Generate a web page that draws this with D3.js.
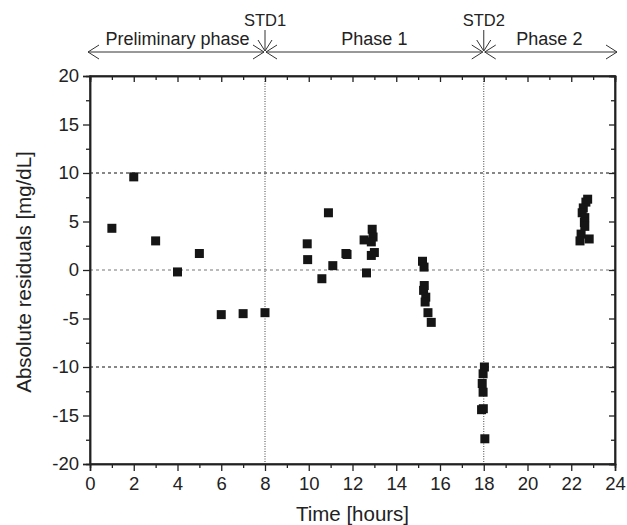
<!DOCTYPE html>
<html><head><meta charset="utf-8">
<script src="https://cdn.jsdelivr.net/npm/d3@7"></script>
<style>
body{margin:0;background:#fff;}
svg text{font-family:"Liberation Sans",Arial,sans-serif;fill:#222;}
</style></head>
<body><svg id="c" width="627" height="525"></svg>
<script>
// Data
const prelimTime = [1, 2, 3, 4, 5, 6, 7, 8];
const prelimValue = [4.3, 9.6, 3.0, -0.2, 1.7, -4.6, -4.5, -4.4];
const phase1Time = [9.93, 9.95, 10.6, 10.9, 11.1, 11.7, 11.75, 12.53, 12.64, 12.9, 12.94, 12.86, 12.86, 13.0,
                    15.2, 15.27, 15.28, 15.25, 15.35, 15.32, 15.45, 15.6];
const phase1Value = [2.7, 1.07, -0.9, 5.9, 0.45, 1.7, 1.6, 3.1, -0.3, 4.2, 3.4, 2.9, 1.5, 1.8,
                     0.9, 0.3, -1.6, -2.1, -2.8, -3.3, -4.4, -5.4];
const phase2Time = [18.03, 17.97, 17.93, 17.97, 17.9, 17.98, 18.05,
                    22.75, 22.67, 22.55, 22.5, 22.62, 22.6, 22.62, 22.45, 22.4, 22.82];
const phase2Value = [-10.0, -10.7, -11.7, -12.6, -14.4, -14.3, -17.4,
                     7.3, 7.0, 6.4, 5.9, 5.4, 4.9, 4.5, 3.7, 3.0, 3.2];
const xMajorTicks = [0, 2, 4, 6, 8, 10, 12, 14, 16, 18, 20, 22, 24];
const xMinorTicks = [1, 3, 5, 7, 9, 11, 13, 15, 17, 19, 21, 23];
const yMajorTicks = [-20, -15, -10, -5, 0, 5, 10, 15, 20];
const yMinorTicks = [-17.5, -12.5, -7.5, -2.5, 2.5, 7.5, 12.5, 17.5];
const hLines = [10, 0, -10];
const stdMarks = [{t: 8, label: "STD1"}, {t: 18, label: "STD2"}];
const phaseLabels = [{from: 0, to: 8, label: "Preliminary phase"},
                     {from: 8, to: 18, label: "Phase 1"},
                     {from: 18, to: 24, label: "Phase 2"}];

const points = [];
[[prelimTime, prelimValue], [phase1Time, phase1Value], [phase2Time, phase2Value]].forEach(([t, v]) => {
  t.forEach((d, i) => points.push({t: d, v: v[i]}));
});

const L = 90, R = 615, T = 76, B = 464;
const svg = d3.select("#c");
const x = d3.scaleLinear().domain([0, 24]).range([L, R]);
const y = d3.scaleLinear().domain([-20, 20]).range([B, T]);

// horizontal dashed reference lines
svg.selectAll(".hl").data(hLines).enter().append("line")
  .attr("x1", L).attr("x2", R)
  .attr("y1", d => y(d)).attr("y2", d => y(d))
  .attr("stroke", d => d === 0 ? "#777" : "#111")
  .attr("stroke-width", 1.2)
  .attr("stroke-dasharray", "3,3");

// vertical dotted STD lines
svg.selectAll(".vl").data(stdMarks).enter().append("line")
  .attr("x1", d => x(d.t)).attr("x2", d => x(d.t))
  .attr("y1", T).attr("y2", B)
  .attr("stroke", "#444").attr("stroke-width", 1)
  .attr("stroke-dasharray", "1,1.5");

// axes
const fmt = d => String(d);
svg.append("g").attr("transform", `translate(0,${B})`)
  .call(d3.axisBottom(x).tickValues(xMajorTicks).tickFormat(fmt).tickSize(7).tickPadding(6));
svg.append("g").attr("transform", `translate(0,${B})`)
  .call(d3.axisBottom(x).tickValues(xMinorTicks).tickFormat("").tickSize(4));
svg.append("g").attr("transform", `translate(${L},0)`)
  .call(d3.axisLeft(y).tickValues(yMajorTicks).tickFormat(fmt).tickSize(7).tickPadding(4));
svg.append("g").attr("transform", `translate(${L},0)`)
  .call(d3.axisLeft(y).tickValues(yMinorTicks).tickFormat("").tickSize(4));
// mirror axes (inward ticks)
svg.append("g").attr("transform", `translate(0,${T})`)
  .call(d3.axisBottom(x).tickValues(xMajorTicks).tickFormat("").tickSize(6));
svg.append("g").attr("transform", `translate(0,${T})`)
  .call(d3.axisBottom(x).tickValues(xMinorTicks).tickFormat("").tickSize(4));
svg.append("g").attr("transform", `translate(${R},0)`)
  .call(d3.axisLeft(y).tickValues(yMajorTicks).tickFormat("").tickSize(6));
svg.append("g").attr("transform", `translate(${R},0)`)
  .call(d3.axisLeft(y).tickValues(yMinorTicks).tickFormat("").tickSize(4));

svg.selectAll(".domain").attr("stroke", "#222").attr("stroke-width", 1.5);
svg.selectAll(".tick line").attr("stroke", "#222").attr("stroke-width", 1.3);
svg.selectAll(".tick text").attr("font-size", 18.5).attr("fill", "#222")
  .attr("font-family", '"Liberation Sans",Arial,sans-serif');
svg.append("rect").attr("x", L).attr("y", T).attr("width", R - L).attr("height", B - T)
  .attr("fill", "none").attr("stroke", "#222").attr("stroke-width", 1.5);

// points
const s = 9;
svg.selectAll(".pt").data(points).enter().append("rect")
  .attr("x", d => x(d.t) - s / 2).attr("y", d => y(d.v) - s / 2)
  .attr("width", s).attr("height", s)
  .attr("fill", "#151515");

// axis titles
svg.append("text").attr("x", (L + R) / 2).attr("y", 521).attr("text-anchor", "middle")
  .attr("font-size", 20.5).text("Time [hours]");
svg.append("text").attr("transform", `translate(31,272) rotate(-90)`)
  .attr("text-anchor", "middle").attr("font-size", 20.5).text("Absolute residuals [mg/dL]");

// phase annotations
const ay = 52;
const ah = 7;
const arrowG = svg.append("g").attr("stroke", "#333").attr("stroke-width", 1).attr("fill", "none");
phaseLabels.forEach(p => {
  const x1 = x(p.from) - (p.from === 0 ? 3 : 0) + 1, x2 = x(p.to) + (p.to === 24 ? 3 : 0) - 1;
  arrowG.append("line").attr("x1", x1).attr("x2", x2).attr("y1", ay).attr("y2", ay);
  arrowG.append("path").attr("d", `M${x1 + 11},${ay - ah} L${x1},${ay} L${x1 + 11},${ay + ah}`);
  arrowG.append("path").attr("d", `M${x2 - 11},${ay - ah} L${x2},${ay} L${x2 - 11},${ay + ah}`);
  svg.append("text").attr("x", (x(p.from) + x(p.to)) / 2)
    .attr("y", ay - 7).attr("text-anchor", "middle").attr("font-size", 18).text(p.label);
});
stdMarks.forEach(m => {
  const cx = x(m.t);
  arrowG.append("line").attr("x1", cx).attr("x2", cx).attr("y1", 30).attr("y2", ay - 1);
  arrowG.append("path").attr("d", `M${cx - 7},${ay - 12} L${cx},${ay - 1} L${cx + 7},${ay - 12}`);
  svg.append("text").attr("x", cx).attr("y", 26).attr("text-anchor", "middle")
    .attr("font-size", 16.5).text(m.label);
});
</script></body></html>
